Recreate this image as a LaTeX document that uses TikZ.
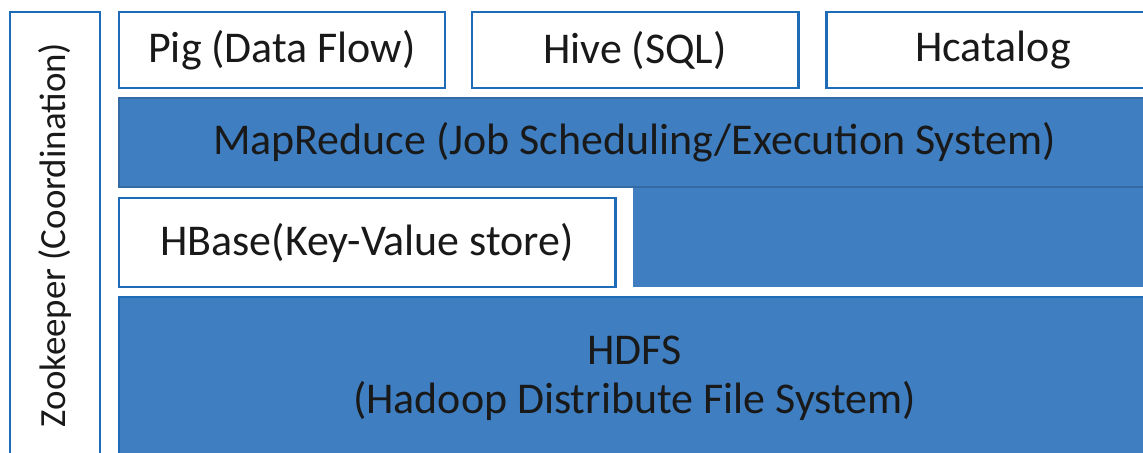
\documentclass[tikz,border=0pt]{standalone}
\usepackage{fontspec}
\setmainfont{Carlito}
\usepackage{xcolor}
\definecolor{hbord}{RGB}{30,108,184}
\definecolor{hfill}{RGB}{62,126,193}
\usetikzlibrary{fit}
\tikzset{
  layer/.style={draw=hbord, line width=1.7pt, fill=white, inner sep=0pt},
  bluelayer/.style={layer, fill=hfill, draw=hfill!85!black, line width=0.8pt},
  txt/.style={text=black!90, font=\fontsize{25}{27.5}\selectfont, align=center},
}

\begin{document}
\begin{tikzpicture}[x=0.02cm, y=-0.02cm]
\useasboundingbox (0,0) rectangle (1143,453);
\clip (0,0) rectangle (1143,453);
\node[layer, fit={(10,12) (100,458)}] (zoo) {};
\node[layer, fit={(119,12) (445,88)}] (pig) {};
\node[layer, fit={(472,12) (798,88)}] (hive) {};
\node[layer, fit={(826,12) (1160,88)}] (hcat) {};
\fill[hfill] (633,185) rectangle (1160,287);
\node[bluelayer, fit={(119,98) (1150,187)}] (mapred) {};
\node[layer, fit={(119,198) (615,287)}] (hbase) {};
\node[bluelayer, draw=hbord, line width=1.2pt, fit={(119,297) (1150,463)}] (hdfs) {};

\node[txt, rotate=90, font=\fontsize{21}{25}\selectfont] (zootext) at (zoo.center) {Zookeeper (Coordination)};
\node[txt] (pigtext) at (pig.center) {Pig (Data Flow)};
\node[txt] (hivetext) at (hive.center) {Hive (SQL)};
\node[txt] (hcattext) at (hcat.center) {Hcatalog};
\node[txt] (mapredtext) at (mapred.center) {MapReduce (Job Scheduling/Execution System)};
\node[txt] (hbasetext) at (hbase.center) {HBase(Key-Value store)};
\node[txt] (hdfstext) at ([yshift=1pt]hdfs.center) {HDFS\\(Hadoop Distribute File System)};
\end{tikzpicture}
\end{document}
